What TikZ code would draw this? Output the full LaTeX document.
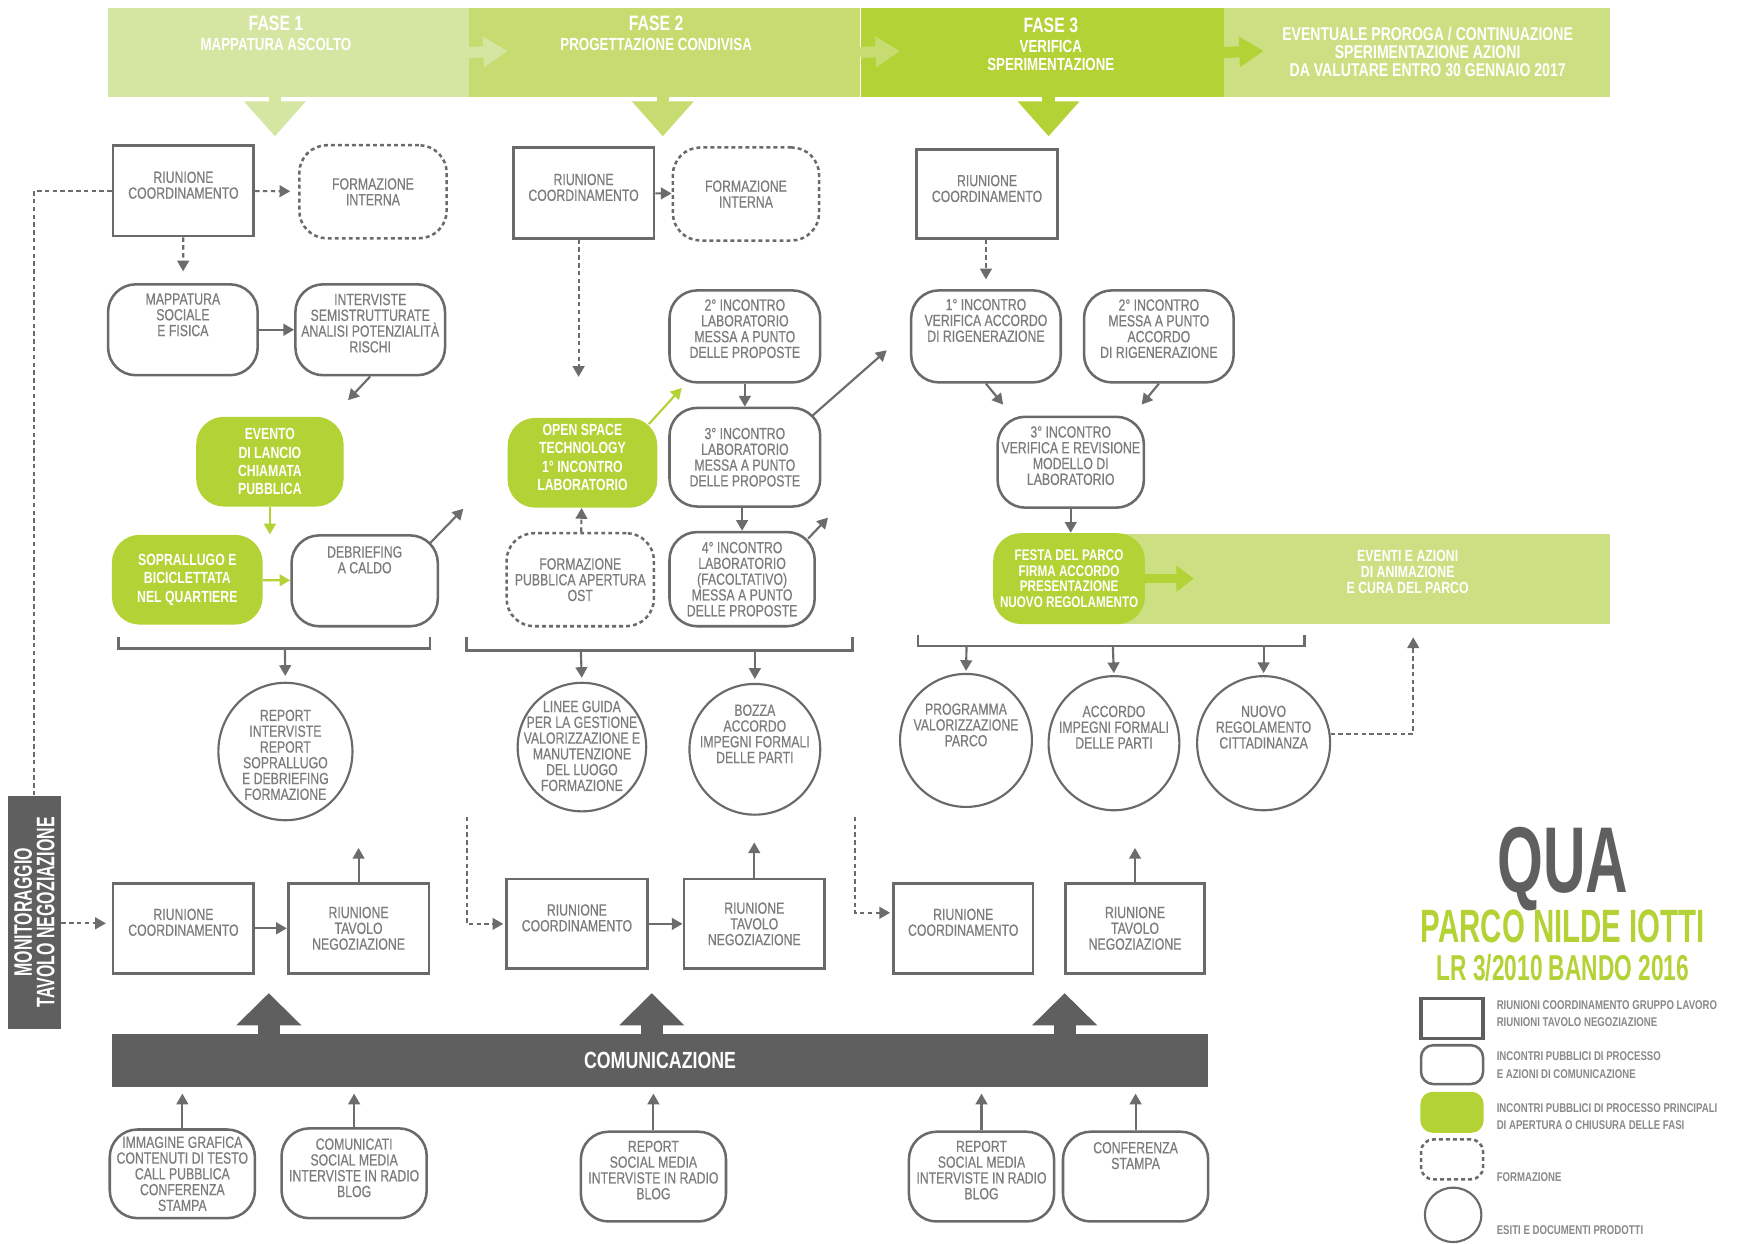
\documentclass[tikz,border=0pt]{standalone}
\usepackage{fontspec}
\setmainfont{Liberation Sans}
\newfontfamily\cnd{Liberation Sans}[FakeStretch=0.76]
\newfontfamily\corpo{Liberation Sans}[FakeStretch=0.76, FakeBold=0.4]
\newfontfamily\headfont{Liberation Sans}[FakeStretch=0.63]
\usetikzlibrary{arrows.meta,shapes.geometric,positioning}
\usepackage{xcolor}

\definecolor{fase1}{HTML}{D5E6A2}
\definecolor{fase2}{HTML}{C6DC70}
\definecolor{fase3}{HTML}{B3D236}
\definecolor{fase4}{HTML}{CCE083}
\definecolor{verde}{HTML}{B2D235}
\definecolor{scuro}{HTML}{5F5F5F}
\definecolor{linea}{HTML}{6C6C6C}
\definecolor{bordo}{HTML}{6A6A6A}
\definecolor{testo}{HTML}{7C7C7C}

\newcommand{\fasetit}{\fontsize{10.7}{10.7}\selectfont}

\begin{document}
\begin{tikzpicture}[
                  x = 0.02cm,
                  y = -0.02cm,
          txt/.style = {font=\corpo\fontsize{8.3}{8.1}\selectfont, text=testo, align=center, inner sep=1pt},
     riunione/.style = {txt, draw=bordo, line width=1.4pt, minimum width=2.54cm, minimum height=1.64cm},
     incontro/.style = {txt, draw=bordo, line width=1.3pt, rounded corners=0.5cm, minimum width=2.7cm, minimum height=1.64cm},
   formazione/.style = {incontro, dash pattern=on 2pt off 1.6pt},
   principale/.style = {txt, fill=verde, text=white, font=\cnd\bfseries\fontsize{8.3}{9.4}\selectfont, rounded corners=0.5cm, minimum width=2.66cm, minimum height=1.62cm},
        esito/.style = {ellipse, draw=bordo, line width=1.1pt, minimum width=2.4cm, minimum height=2.44cm, inner sep=0pt},
         lift/.style = {text depth=#1},
      freccia/.style = {draw=linea, line width=1.1pt, -{Triangle[length=5.5pt,width=6pt]}},
       tratto/.style = {freccia, dash pattern=on 2.3pt off 1.7pt},
     trattino/.style = {draw=linea, line width=1.1pt, dash pattern=on 2.3pt off 1.7pt},
 verdefreccia/.style = {freccia, draw=verde},
       graffa/.style = {draw=linea, line width=1.2pt},
         fase/.style = {anchor=north west, minimum height=1.6cm, inner sep=0pt},
      fasetxt/.style = {font=\cnd\bfseries\fontsize{9}{9}\selectfont, text=white, align=center, inner sep=0pt},
     fasefrec/.style = {line width=5.7pt, -{Triangle[length=12.5pt,width=15pt]}},
      fasegiu/.style = {line width=6.3pt, -{Triangle[length=18pt,width=30.7pt]}},
       comsu/.style = {draw=scuro, line width=11.4pt, -{Triangle[length=16.5pt,width=32.4pt]}},
       legtxt/.style = {font=\cnd\bfseries\fontsize{6.5}{8.8}\selectfont, text=testo!90, align=left, anchor=west, inner sep=0pt},
                   ]
\useasboundingbox (0,0) rectangle (1568,1122);
\fill[white] (0,0) rectangle (1568,1122);

% fasi
\node[fase, fill=fase1, minimum width=6.52cm] (f1) at (97,7) {};
\node[fase, fill=fase2, minimum width=7.06cm] (f2) at (423,7) {};
\node[fase, fill=fase3, minimum width=6.56cm] (f3) at (776,7) {};
\node[fase, fill=fase4, minimum width=6.96cm] (f4) at (1104,7) {};
\coordinate (fa2) at (458,46);
\coordinate (fa3) at (812,46);
\coordinate (fa4) at (1140,46);
\draw[fasefrec, fase1] (f2.west) -- (fa2);
\draw[fasefrec, fase2] (f3.west) -- (fa3);
\draw[fasefrec, fase3] (f4.west) -- (fa4);
\node[fasetxt] (f1t) at (249,30) {{\fasetit FASE 1}\\[1.5pt]MAPPATURA ASCOLTO};
\node[fasetxt] (f2t) at (592,30) {{\fasetit FASE 2}\\[1.5pt]PROGETTAZIONE CONDIVISA};
\node[fasetxt] (f3t) at (948,40) {{\fasetit FASE 3}\\[1.5pt]VERIFICA\\SPERIMENTAZIONE};
\node[fasetxt, font=\cnd\bfseries\fontsize{9.5}{9.1}\selectfont] (f4t) at (1288,47)
    {EVENTUALE PROROGA / CONTINUAZIONE\\SPERIMENTAZIONE AZIONI\\DA VALUTARE ENTRO 30 GENNAIO 2017};
\coordinate (d1) at (248,123);
\coordinate (d2) at (598,123);
\coordinate (d3) at (946,123);
\draw[fasegiu, fase1] (f1.south -| d1) -- (d1);
\draw[fasegiu, fase2] (f2.south -| d2) -- (d2);
\draw[fasegiu, fase3] (f3.south -| d3) -- (d3);

% fase 1
\node[riunione, lift=0.2cm] (rc1) at (165.5,172) {RIUNIONE\\COORDINAMENTO};
\node[formazione, minimum width=2.66cm, minimum height=1.68cm] (fi1) at (336.5,173) {FORMAZIONE\\INTERNA};
\node[incontro, lift=0.54cm] (map) at (165,297.5) {MAPPATURA\\SOCIALE\\E FISICA};
\node[incontro, lift=0.24cm] (int) at (334,297.5) {INTERVISTE\\SEMISTRUTTURATE\\ANALISI POTENZIALITÀ\\RISCHI};
\node[principale] (lancio) at (243.5,416.5) {EVENTO\\DI LANCIO\\CHIAMATA\\PUBBLICA};
\node[principale, minimum width=2.72cm] (sopr) at (169,523) {SOPRALLUGO E\\BICICLETTATA\\NEL QUARTIERE};
\node[incontro, minimum width=2.64cm, lift=0.76cm] (debr) at (329,524) {DEBRIEFING\\A CALDO};
\coordinate (ia) at (314,361);
\coordinate (da) at (418,459);
\draw[tratto, shorten >=4pt] (rc1) -- (fi1);
\draw[tratto, shorten >=6pt] (rc1) -- (map);
\draw[freccia] (map) -- (int);
\draw[freccia] (int.south) -- (ia);
\draw[verdefreccia] (lancio) -- (lancio |- sopr.north);
\draw[verdefreccia] (sopr) -- (debr);
\draw[freccia] ([shift={(-8,8)}]debr.north east) -- (da);
\draw[graffa] (107,575) -- (107,585) -- (388,585) -- (388,575);
\coordinate (g1) at (257,585);
\node[esito, minimum width=2.42cm, minimum height=2.48cm] (rep) at (257.5,678) {};
\node[txt] (reptxt) at (257.5,681) {REPORT\\INTERVISTE\\REPORT\\SOPRALLUGO\\E DEBRIEFING\\FORMAZIONE};
\draw[freccia, shorten >=3pt] (g1) -- (rep.north);

% fase 2
\node[riunione] (rc2) at (526.5,174) [lift=0.2cm] {RIUNIONE\\COORDINAMENTO};
\node[formazione, minimum width=2.64cm, minimum height=1.68cm] (fi2) at (673,175) {FORMAZIONE\\INTERNA};
\node[principale, minimum width=2.7cm, lift=0.2cm] (ost) at (525.5,417.5) {OPEN SPACE\\TECHNOLOGY\\1° INCONTRO\\LABORATORIO};
\node[formazione, minimum width=2.66cm, minimum height=1.68cm] (fpub) at (523.5,523) {FORMAZIONE\\PUBBLICA APERTURA\\OST};
\node[incontro, minimum width=2.72cm, minimum height=1.66cm, lift=0.28cm] (lab2) at (672,303.5) {2° INCONTRO\\LABORATORIO\\MESSA A PUNTO\\DELLE PROPOSTE};
\node[incontro, minimum width=2.72cm, minimum height=1.78cm] (lab3) at (672,412.5) {3° INCONTRO\\LABORATORIO\\MESSA A PUNTO\\DELLE PROPOSTE};
\node[incontro, minimum width=2.62cm, minimum height=1.7cm] (lab4) at (669.5,522.5) {4° INCONTRO\\LABORATORIO\\(FACOLTATIVO)\\MESSA A PUNTO\\DELLE PROPOSTE};
\coordinate (c2) at (522,340);
\coordinate (oa) at (615,350);
\coordinate (l3a) at (800,316);
\coordinate (l4a) at (747,467);
\draw[freccia] (rc2) -- (fi2);
\draw[tratto] (rc2.south -| c2) -- (c2);
\draw[tratto] (fpub) -- (ost);
\draw[verdefreccia] ([shift={(-8,6)}]ost.north east) -- (oa);
\draw[freccia] (lab2) -- (lab3);
\draw[freccia] (lab3.south -| lab4) -- (lab4);
\draw[freccia] ([shift={(-8,8)}]lab3.north east) -- (l3a);
\draw[freccia] ([shift={(-7,7)}]lab4.north east) -- (l4a);
\draw[graffa] (421,575) -- (421,587) -- (769,587) -- (769,575);
\coordinate (g2a) at (524,587);
\coordinate (g2b) at (681,587);
\node[esito, minimum width=2.32cm, minimum height=2.32cm] (linee) at (525,674) {};
\node[txt] (lineetxt) at (525,673) {LINEE GUIDA\\PER LA GESTIONE\\VALORIZZAZIONE E\\MANUTENZIONE\\DEL LUOGO\\FORMAZIONE};
\node[esito, minimum width=2.36cm, minimum height=2.36cm] (bozza) at (681,676) {};
\node[txt] (bozzatxt) at (681,662) {BOZZA\\ACCORDO\\IMPEGNI FORMALI\\DELLE PARTI};
\draw[freccia, shorten >=2pt] (g2a) -- (linee.north);
\draw[freccia, shorten >=2pt] (g2b) -- (bozza.north);

% fase 3
\node[riunione, minimum height=1.6cm, lift=0.2cm] (rc3) at (890.5,175) {RIUNIONE\\COORDINAMENTO};
\node[incontro, minimum width=2.7cm, minimum height=1.66cm, lift=0.58cm] (ver1) at (889.5,303.5) {1° INCONTRO\\VERIFICA ACCORDO\\DI RIGENERAZIONE};
\node[incontro, minimum width=2.7cm, minimum height=1.66cm, lift=0.28cm] (ver2) at (1045.5,303.5) {2° INCONTRO\\MESSA A PUNTO\\ACCORDO\\DI RIGENERAZIONE};
\node[incontro, minimum width=2.64cm, lift=0.24cm] (ver3) at (966,417) {3° INCONTRO\\VERIFICA E REVISIONE\\MODELLO DI\\LABORATORIO};
\node[fase, fill=fase4, minimum width=9.04cm, minimum height=1.64cm] (eventi) at (1000,481) {};
\node[fasetxt, font=\cnd\bfseries\fontsize{8.3}{8.2}\selectfont] (eventitxt) at (1270,516) {EVENTI E AZIONI\\DI ANIMAZIONE\\E CURA DEL PARCO};
\node[principale, minimum width=2.74cm, minimum height=1.64cm, font=\cnd\bfseries\fontsize{7.9}{8.1}\selectfont, inner sep=0pt] (festa) at (964.5,522) {FESTA DEL PARCO\\FIRMA ACCORDO\\PRESENTAZIONE\\NUOVO REGOLAMENTO};
\coordinate (v1a) at (905,365);
\coordinate (v2a) at (1030,365);
\coordinate (fe) at (1077,522);
\draw[tratto, shorten >=5pt] (rc3.south -| ver1) -- (ver1);
\draw[freccia] (ver1.south) -- (v1a);
\draw[freccia] (ver2.south) -- (v2a);
\draw[freccia] (ver3) -- (ver3 |- festa.north);
\draw[verde, line width=5pt, -{Triangle[length=9pt,width=13pt]}] (festa.east) -- (fe);
\draw[graffa] (828,573) -- (828,583) -- (1177,583) -- (1177,573);
\coordinate (g3a) at (872,583);
\coordinate (g3b) at (1004,583);
\coordinate (g3c) at (1140,583);
\node[esito, minimum width=2.38cm, minimum height=2.4cm] (prog) at (871.5,668) {};
\node[txt] (progtxt) at (871.5,654) {PROGRAMMA\\VALORIZZAZIONE\\PARCO};
\node[esito, minimum width=2.36cm, minimum height=2.42cm] (accordo) at (1005,670.5) {};
\node[txt] (accordotxt) at (1005,656) {ACCORDO\\IMPEGNI FORMALI\\DELLE PARTI};
\node[esito, minimum width=2.4cm, minimum height=2.42cm] (nuovo) at (1140,670.5) {};
\node[txt] (nuovotxt) at (1140,656) {NUOVO\\REGOLAMENTO\\CITTADINANZA};
\draw[freccia, shorten >=1pt] (g3a) -- (prog.north);
\draw[freccia, shorten >=1pt] (g3b) -- (accordo.north);
\draw[freccia, shorten >=1pt] (g3c) -- (nuovo.north);
\coordinate (nu) at (1275,575);
\draw[tratto] (nuovo.8) -| (nu);

% tavoli
\node[riunione, minimum height=1.62cm, lift=0.22cm] (rc4) at (165.5,837.5) {RIUNIONE\\COORDINAMENTO};
\node[riunione, minimum height=1.62cm] (tav1) at (323.5,837.5) {RIUNIONE\\TAVOLO\\NEGOZIAZIONE};
\node[riunione, minimum height=1.62cm, lift=0.22cm] (rc5) at (520.5,833.5) {RIUNIONE\\COORDINAMENTO};
\node[riunione, minimum height=1.62cm] (tav2) at (680.5,833.5) {RIUNIONE\\TAVOLO\\NEGOZIAZIONE};
\node[riunione, minimum width=2.52cm, minimum height=1.62cm, lift=0.22cm] (rc6) at (869,837.5) {RIUNIONE\\COORDINAMENTO};
\node[riunione, minimum width=2.52cm, minimum height=1.62cm] (tav3) at (1024,837.5) {RIUNIONE\\TAVOLO\\NEGOZIAZIONE};
\coordinate (u1) at (323.5,765);
\coordinate (u2) at (680.5,760);
\coordinate (u3) at (1024,765);
\coordinate (m2) at (421,737);
\coordinate (m3) at (771,737);
\draw[freccia] (rc4) -- (tav1);
\draw[freccia] (rc5) -- (tav2);
\draw[freccia] (tav1) -- (u1);
\draw[freccia] (tav2) -- (u2);
\draw[freccia] (tav3) -- (u3);
\draw[tratto, shorten >=1pt] (m2) |- (rc5);
\draw[tratto, shorten >=1pt] (m3) |- ([shift={(0,-14)}]rc6.west);

% monitoraggio
\node[fill=scuro, text=white, font=\headfont\bfseries\fontsize{13}{11.5}\selectfont, align=center,
      minimum width=4.2cm, minimum height=0.96cm, inner sep=0pt, rotate=90] (mon) at (31,823)
      {MONITORAGGIO\\TAVOLO NEGOZIAZIONE};
\draw[trattino] (mon.east) |- (rc1);
\draw[tratto, shorten >=3pt] (mon.south |- 0,833) -- (rc4.west |- 0,833);

% comunicazione
\node[fill=scuro, text=white, font=\cnd\bfseries\fontsize{12}{12}\selectfont,
      minimum width=19.78cm, minimum height=0.96cm, inner sep=0pt] (com) at (595.5,957) {COMUNICAZIONE};
\coordinate (c1) at (242.5,896);
\coordinate (c2) at (588,896);
\coordinate (c3) at (960.5,896);
\draw[comsu] (com.north -| c1) -- (c1);
\draw[comsu] (com.north -| c2) -- (c2);
\draw[comsu] (com.north -| c3) -- (c3);
\node[incontro, minimum width=2.62cm, minimum height=1.6cm] (cm1) at (164.5,1059) {IMMAGINE GRAFICA\\CONTENUTI DI TESTO\\CALL PUBBLICA\\CONFERENZA\\STAMPA};
\node[incontro, minimum width=2.62cm, minimum height=1.62cm, lift=0.2cm] (cm2) at (319.5,1058.5) {COMUNICATI\\SOCIAL MEDIA\\INTERVISTE IN RADIO\\BLOG};
\node[incontro, minimum width=2.62cm, minimum height=1.62cm, lift=0.24cm] (cm3) at (589.5,1061.5) {REPORT\\SOCIAL MEDIA\\INTERVISTE IN RADIO\\BLOG};
\node[incontro, minimum width=2.62cm, minimum height=1.62cm, lift=0.24cm] (cm4) at (885.5,1061.5) {REPORT\\SOCIAL MEDIA\\INTERVISTE IN RADIO\\BLOG};
\node[incontro, minimum width=2.62cm, minimum height=1.62cm, lift=0.76cm] (cm5) at (1024.5,1061.5) {CONFERENZA\\STAMPA};
\foreach \n in {cm1,cm2,cm3,cm4,cm5}
    \draw[freccia, shorten >=3pt] (\n) -- (\n |- com.south);

% legenda
\node[font=\headfont\bfseries\fontsize{48}{48}\selectfont, text=scuro, inner sep=0pt] (qua) at (1410,784) {QUA};
\node[font=\headfont\bfseries\fontsize{24}{24}\selectfont, text=verde, inner sep=0pt] (parco) at (1410,836) {PARCO NILDE IOTTI};
\node[font=\headfont\bfseries\fontsize{18.5}{18.5}\selectfont, text=verde, inner sep=0pt] (bando) at (1410,873) {LR 3/2010 BANDO 2016};
\node[riunione, draw=scuro, line width=1.8pt, minimum width=1.12cm, minimum height=0.72cm] (lgr) at (1310,919) {};
\node[incontro, rounded corners=0.22cm, minimum width=1.12cm, minimum height=0.7cm] (lgi) at (1310,960.5) {};
\node[principale, rounded corners=0.22cm, minimum width=1.14cm, minimum height=0.74cm] (lgp) at (1310,1003.5) {};
\node[formazione, rounded corners=0.22cm, minimum width=1.12cm, minimum height=0.72cm] (lgf) at (1310,1046) {};
\node[esito, minimum width=1.02cm, minimum height=0.98cm] (lge) at (1311,1096) {};
\node[legtxt] (lt1) at (1350,914.5) {RIUNIONI COORDINAMENTO GRUPPO LAVORO\\RIUNIONI TAVOLO NEGOZIAZIONE};
\node[legtxt] (lt2) at (1350,961) {INCONTRI PUBBLICI DI PROCESSO\\E AZIONI DI COMUNICAZIONE};
\node[legtxt] (lt3) at (1350,1007.5) {INCONTRI PUBBLICI DI PROCESSO PRINCIPALI\\DI APERTURA O CHIUSURA DELLE FASI};
\node[legtxt] (lt4) at (1350,1062) {FORMAZIONE};
\node[legtxt] (lt5) at (1350,1110) {ESITI E DOCUMENTI PRODOTTI};
\end{tikzpicture}
\end{document}
